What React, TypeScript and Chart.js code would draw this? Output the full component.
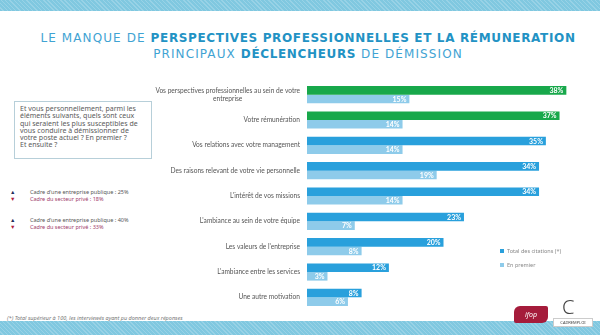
import React, { useEffect, useRef } from "react";
import { Chart, registerables } from "chart.js";
Chart.register(...registerables);

const categories: string[][] = [
  ["Vos perspectives professionnelles au sein de votre", "entreprise"],
  ["Votre rémunération"],
  ["Vos relations avec votre management"],
  ["Des raisons relevant de votre vie personnelle"],
  ["L'intérêt de vos missions"],
  ["L'ambiance au sein de votre équipe"],
  ["Les valeurs de l'entreprise"],
  ["L'ambiance entre les services"],
  ["Une autre motivation"],
];
const totalCitations = [38, 37, 35, 34, 34, 23, 20, 12, 8];
const enPremier = [15, 14, 14, 19, 14, 7, 8, 3, 6];
const seriesNames = ["Total des citations (*)", "En premier"];

const GREEN = "#18a84b";
const BLUE = "#29a0dc";
const LIGHT = "#8ecbea";

const labelPlugin = {
  id: "customLabels",
  afterDraw(chart: any) {
    const ctx = chart.ctx;
    const y = chart.scales.y;
    const right = chart.chartArea.left - 7;
    ctx.save();
    ctx.font = "6.6px Lato";
    ctx.fillStyle = "#555";
    ctx.textBaseline = "middle";
    categories.forEach((lines, i) => {
      const cy = y.getPixelForTick(i);
      if (lines.length === 1) {
        ctx.textAlign = "right";
        ctx.fillText(lines[0], right, cy);
      } else {
        const w = ctx.measureText(lines[0]).width;
        ctx.textAlign = "right";
        ctx.fillText(lines[0], right, cy - 4);
        ctx.textAlign = "center";
        ctx.fillText(lines[1], right - w / 2, cy + 4);
      }
    });
    ctx.restore();
  },
  afterDatasetsDraw(chart: any) {
    const ctx = chart.ctx;
    ctx.save();
    ctx.font = "bold 7px Lato";
    ctx.fillStyle = "#fff";
    ctx.textAlign = "right";
    ctx.textBaseline = "middle";
    chart.data.datasets.forEach((ds: any, di: number) => {
      const meta = chart.getDatasetMeta(di);
      meta.data.forEach((bar: any, i: number) => {
        ctx.fillText(ds.data[i] + "%", bar.x - 3, bar.y + 0.5);
      });
    });
    ctx.restore();
  },
};

function ChartBox() {
  const ref = useRef<HTMLCanvasElement>(null);
  useEffect(() => {
    const chart = new Chart(ref.current!, {
      type: "bar",
      data: {
        labels: categories.map((c) => c.join(" ")),
        datasets: [
          {
            label: seriesNames[0],
            data: totalCitations,
            backgroundColor: totalCitations.map((_, i) => (i < 2 ? GREEN : BLUE)),
          },
          {
            label: seriesNames[1],
            data: enPremier,
            backgroundColor: LIGHT,
          },
        ],
      },
      options: {
        indexAxis: "y",
        animation: false,
        responsive: false,
        maintainAspectRatio: false,
        layout: { padding: { right: 20 } },
        datasets: { bar: { barPercentage: 1, categoryPercentage: 0.68 } } as any,
        plugins: { legend: { display: false }, tooltip: { enabled: false } },
        scales: {
          x: { display: false, min: 0, max: 40 },
          y: {
            grid: { display: false },
            border: { display: false },
            ticks: { display: false },
            afterFit: (s: any) => {
              s.width = 157;
            },
          },
        },
      },
      plugins: [labelPlugin],
    });
    return () => chart.destroy();
  }, []);
  return (
    <canvas
      ref={ref}
      width={450}
      height={228}
      style={{ position: "absolute", left: 150, top: 82, width: 450, height: 228 }}
    />
  );
}

const band = {
  position: "absolute" as const,
  left: 0,
  width: 600,
  background:
    "repeating-linear-gradient(45deg, #80c8e0 0px, #80c8e0 2px, #98d2e6 2px, #98d2e6 3px)",
};

export default function App() {
  useEffect(() => {
    document.body.style.margin = "0";
  }, []);
  const font = "'Noto Sans', sans-serif";
  return (
    <div style={{ position: "fixed", left: 0, top: 0, width: 600, height: 335, background: "#fff", overflow: "hidden", fontFamily: font }}>
      <div style={{ ...band, top: 0, height: 11 }} />
      <div style={{ ...band, top: 321, height: 14 }} />
      <div style={{ position: "absolute", left: 8, top: 30, width: 600, textAlign: "center", color: "#3fa3d3", fontSize: 12, lineHeight: "16px", letterSpacing: 1.1, fontFamily: "'DejaVu Sans', sans-serif" }}>
        <div style={{ whiteSpace: "nowrap" }}>
          <span>LE MANQUE DE </span>
          <b style={{ color: "#2292c4", letterSpacing: 0.65 }}>PERSPECTIVES PROFESSIONNELLES ET LA RÉMUNERATION</b>
        </div>
        <div style={{ whiteSpace: "nowrap" }}>
          <span>PRINCIPAUX </span>
          <b style={{ color: "#2292c4", letterSpacing: 0.65 }}>DÉCLENCHEURS</b>
          <span> DE DÉMISSION</span>
        </div>
      </div>
      <div style={{ position: "absolute", left: 14, top: 101, width: 136, height: 56, border: "1px solid #b7cfd9", boxSizing: "content-box" }} />
      <div style={{ position: "absolute", left: 20, top: 105, width: 130, fontSize: 7, lineHeight: "7.3px", color: "#5a5a5a" }}>
        Et vous personnellement, parmi les<br />
        éléments suivants, quels sont ceux<br />
        qui seraient les plus susceptibles de<br />
        vous conduire à démissionner de<br />
        votre poste actuel ? En premier ?<br />
        Et ensuite ?
      </div>
      {[
        { top: 189, pub: "25%", priv: "18%" },
        { top: 217, pub: "40%", priv: "33%" },
      ].map((a, i) => (
        <div key={i} style={{ position: "absolute", left: 10, top: a.top, fontSize: 5.5, lineHeight: "7px" }}>
          <div>
            <span style={{ color: "#1f2f5a", display: "inline-block", width: 20 }}>▲</span>
            <span style={{ color: "#555" }}>Cadre d'une entreprise publique : {a.pub}</span>
          </div>
          <div>
            <span style={{ color: "#b0203e", display: "inline-block", width: 20 }}>▼</span>
            <span style={{ color: "#a03a6a" }}>Cadre du secteur privé : {a.priv}</span>
          </div>
        </div>
      ))}
      <div style={{ position: "absolute", left: 7, top: 314, fontSize: 5.5, fontStyle: "italic", color: "#777" }}>
        (*) Total supérieur à 100, les interviewés ayant pu donner deux réponses
      </div>
      <ChartBox />
      <div style={{ position: "absolute", left: 500, top: 244, fontSize: 5.5, color: "#888", lineHeight: "14px" }}>
        <div>
          <span style={{ display: "inline-block", width: 4, height: 4, background: BLUE, marginRight: 3 }} />
          {seriesNames[0]}
        </div>
        <div>
          <span style={{ display: "inline-block", width: 4, height: 4, background: LIGHT, marginRight: 3 }} />
          {seriesNames[1]}
        </div>
      </div>
      <div style={{ position: "absolute", left: 514, top: 306, width: 34, height: 17, background: "#a51c3b", borderRadius: "6px 2px 6px 2px", color: "#fff", fontSize: 7, fontStyle: "italic", textAlign: "center", lineHeight: "17px" }}>
        ifop
      </div>
      <div style={{ position: "absolute", left: 562, top: 296, fontSize: 20, color: "#444", fontWeight: 300, lineHeight: "22px" }}>C</div>
      <div style={{ position: "absolute", left: 553, top: 318, width: 38, height: 7, background: "#fff", border: "1px solid #ccc", fontSize: 4, color: "#444", textAlign: "center", lineHeight: "7px" }}>
        CADREMPLOI
      </div>
    </div>
  );
}
